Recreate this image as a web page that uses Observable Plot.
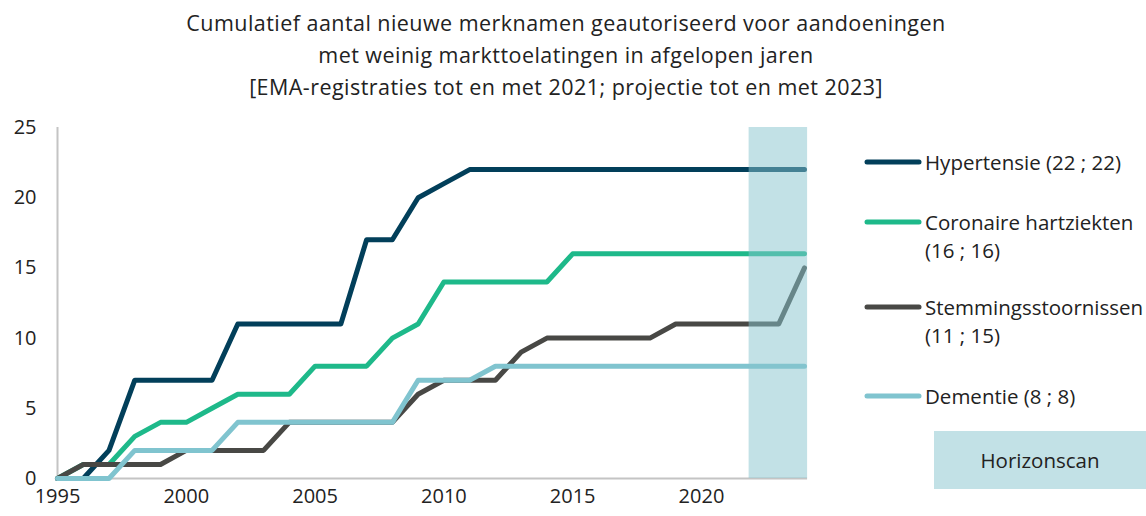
<!DOCTYPE html>
<html>
<head>
<meta charset="utf-8">
<script src="https://cdn.jsdelivr.net/npm/d3@7"></script>
<script src="https://cdn.jsdelivr.net/npm/@observablehq/plot@0.6"></script>
<style>
  html, body { margin: 0; padding: 0; background: #fff; }
  body { width: 1146px; height: 516px; position: relative; overflow: hidden; font-family: "Open Sans", Lato, sans-serif; color: #222; }
  #title { position: absolute; left: 0; top: 7px; width: 1132px; text-align: center; font-size: 21.5px; letter-spacing: 0.45px; line-height: 32px; }
  #chart { position: absolute; left: 0; top: 105px; }
  .leg { position: absolute; font-size: 20.5px; letter-spacing: 0px; line-height: 28px; white-space: nowrap; }
  .sw { position: absolute; }
  #hs { position: absolute; left: 934px; top: 431px; width: 212px; height: 58px; display: flex; align-items: center; justify-content: center; font-size: 20.5px; }
</style>
</head>
<body>
<div id="title"></div>
<div id="chart"></div>
<div id="legend"></div>
<script>
const titleLines = [
  "Cumulatief aantal nieuwe merknamen geautoriseerd voor aandoeningen",
  "met weinig markttoelatingen in afgelopen jaren",
  "[EMA-registraties tot en met 2021; projectie tot en met 2023]"
];
const years = [1995,1996,1997,1998,1999,2000,2001,2002,2003,2004,2005,2006,2007,2008,2009,
               2010,2011,2012,2013,2014,2015,2016,2017,2018,2019,2020,2021,2022,2023,2024];
const seriesNames = ["Hypertensie (22 ; 22)", "Coronaire hartziekten (16 ; 16)", "Stemmingsstoornissen (11 ; 15)", "Dementie (8 ; 8)"];
const legendLines = [["Hypertensie (22 ; 22)"], ["Coronaire hartziekten", "(16 ; 16)"], ["Stemmingsstoornissen", "(11 ; 15)"], ["Dementie (8 ; 8)"]];
const colors = ["#023f5a", "#1eb98a", "#484845", "#80c4cf"];
const hypertensie = [0,0,2,7,7,7,7,11,11,11,11,11,17,17,20,21,22,22,22,22,22,22,22,22,22,22,22,22,22,22];
const coronaire   = [0,1,1,3,4,4,5,6,6,6,8,8,8,10,11,14,14,14,14,14,16,16,16,16,16,16,16,16,16,16];
const stemming    = [0,1,1,1,1,2,2,2,2,4,4,4,4,4,6,7,7,7,9,10,10,10,10,10,11,11,11,11,11,15];
const dementie    = [0,0,0,2,2,2,2,4,4,4,4,4,4,4,7,7,7,8,8,8,8,8,8,8,8,8,8,8,8,8];
const yTicks = [0,5,10,15,20,25];
const xTicks = [1995,2000,2005,2010,2015,2020];
const horizon = {label: "Horizonscan", start: 2021.85, end: 2024.12};

document.getElementById("title").innerHTML = titleLines.map(t => `<div>${t}</div>`).join("");

const allSeries = [hypertensie, coronaire, stemming, dementie];
const rows = [];
allSeries.forEach((vals, i) => vals.forEach((v, j) => rows.push({series: seriesNames[i], year: years[j], value: v})));

const plot = Plot.plot({
  width: 1146,
  height: 411,
  marginTop: 22,
  marginBottom: 38,
  marginLeft: 57,
  marginRight: 342,
  style: {fontFamily: "'Open Sans', Lato, sans-serif", fontSize: "20px", color: "#222", background: "transparent", overflow: "visible"},
  x: {domain: [1995, 2024], ticks: xTicks, tickFormat: d => String(d), tickSize: 0, tickPadding: 10, label: null},
  y: {domain: [0, 25], ticks: yTicks, tickSize: 0, tickPadding: 21, label: null},
  color: {domain: seriesNames, range: colors},
  marks: [
    Plot.ruleY([0], {x1: 1995, x2: 2024.12, stroke: "#c4c4c4", strokeWidth: 2}),
    Plot.ruleX([1995], {y1: 0, y2: 25, stroke: "#c4c4c4", strokeWidth: 2}),
    Plot.line(rows, {x: "year", y: "value", z: "series", stroke: "series", strokeWidth: 5, strokeLinecap: "round", strokeLinejoin: "round"}),
    Plot.rect([horizon], {x1: "start", x2: "end", y1: 0, y2: 25, fill: "#85c3cd", fillOpacity: 0.5}),
    Plot.axisX({ticks: xTicks, tickFormat: d => String(d), tickSize: 0, tickPadding: 10, fill: "#222"}),
    Plot.axisY({ticks: yTicks, tickSize: 0, tickPadding: 21, fill: "#222"})
  ]
});
document.getElementById("chart").appendChild(plot);

// Legend
const legendY = [162, 222, 307, 396];
const legend = document.getElementById("legend");
legendLines.forEach((lines, i) => {
  const sw = document.createElementNS("http://www.w3.org/2000/svg", "svg");
  sw.setAttribute("class", "sw");
  sw.setAttribute("width", 62); sw.setAttribute("height", 10);
  sw.style.left = "862px"; sw.style.top = (legendY[i] - 5) + "px";
  sw.innerHTML = `<line x1="5" x2="57" y1="5" y2="5" stroke="${colors[i]}" stroke-width="5" stroke-linecap="round"/>`;
  legend.appendChild(sw);
  const d = document.createElement("div");
  d.className = "leg";
  d.style.left = "925px";
  d.style.top = (legendY[i] - 14) + "px";
  d.innerHTML = lines.join("<br>");
  legend.appendChild(d);
});
const hs = document.createElement("div");
hs.id = "hs";
hs.style.background = "#c2e1e6";
hs.textContent = horizon.label;
legend.appendChild(hs);
</script>
</body>
</html>
